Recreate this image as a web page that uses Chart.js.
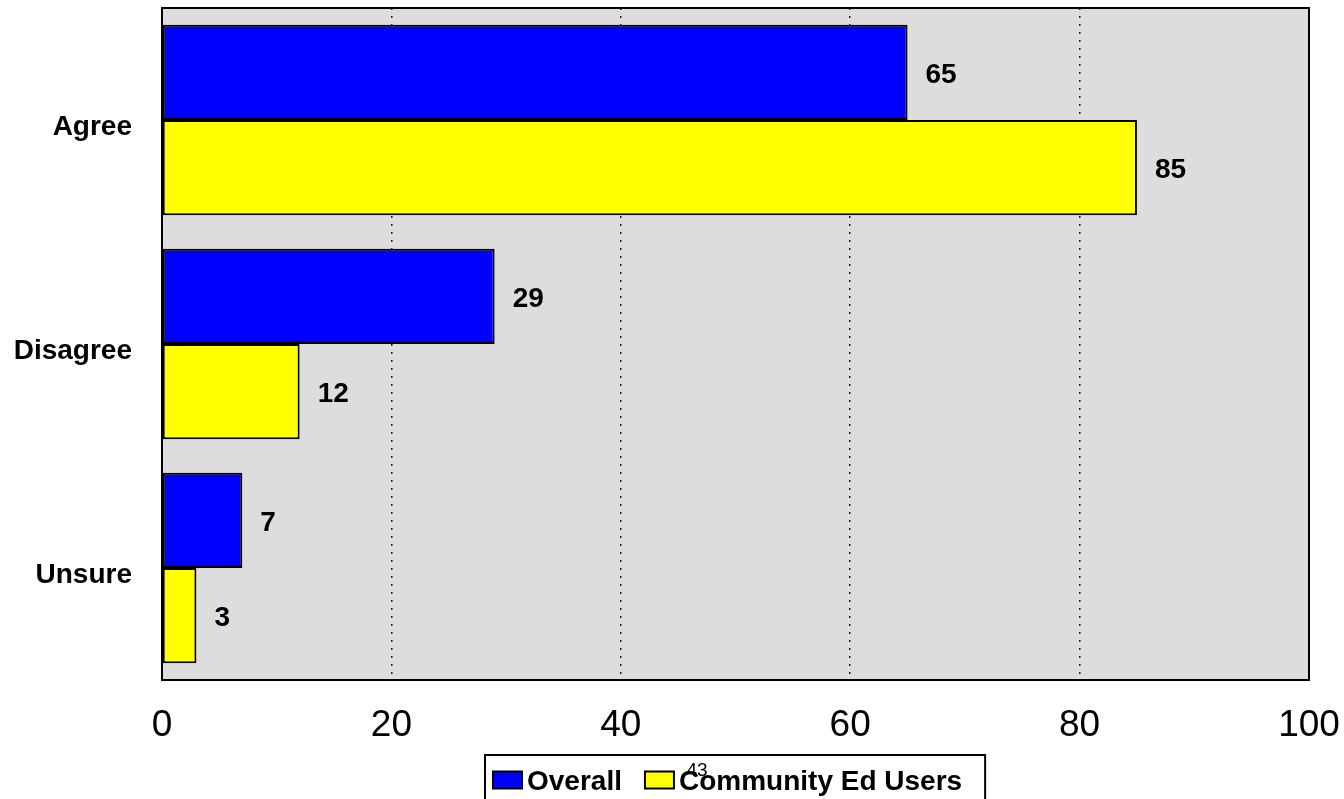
<!DOCTYPE html>
<html>
<head>
<meta charset="utf-8">
<script src="https://cdn.jsdelivr.net/npm/chart.js@4.4.1/dist/chart.umd.min.js"></script>
<style>
    html, body { margin: 0; padding: 0; background: #fff; }
    #wrap { width: 1344px; height: 799px; position: relative; }
</style>
</head>
<body>
<div id="wrap"><canvas id="chart"></canvas></div>
<script>
const categories = ["Agree", "Disagree", "Unsure"];
const seriesNames = ["Overall", "Community Ed Users"];
const overallValues = [65, 29, 7];
const communityValues = [85, 12, 3];
const xTicks = [0, 20, 40, 60, 80, 100];
const strayLabel = "43";

const FONT = "'Liberation Sans', Arial, sans-serif";

// Grey plot background
const plotBackground = {
    id: "plotBackground",
    beforeDraw(chart) {
        const { ctx, chartArea: a } = chart;
        ctx.save();
        ctx.fillStyle = "#dddddd";
        ctx.fillRect(a.left, a.top, a.right - a.left, a.bottom - a.top);
        ctx.restore();
    },
};

// Black frame round the plot area
const plotFrame = {
    id: "plotFrame",
    afterDatasetsDraw(chart) {
        const { ctx, chartArea: a } = chart;
        ctx.save();
        ctx.strokeStyle = "#000";
        ctx.lineWidth = 2;
        ctx.strokeRect(a.left, a.top, a.right - a.left, a.bottom - a.top);
        ctx.restore();
    },
};

// Values at the end of each bar
const valueLabels = {
    id: "valueLabels",
    afterDatasetsDraw(chart) {
        const ctx = chart.ctx;
        ctx.save();
        ctx.font = "bold 28px " + FONT;
        ctx.fillStyle = "#000";
        ctx.textAlign = "left";
        ctx.textBaseline = "middle";
        chart.data.datasets.forEach((ds, i) => {
            chart.getDatasetMeta(i).data.forEach((bar, j) => {
                ctx.fillText(String(ds.data[j]), bar.x + 18, bar.y + 3);
            });
        });
        ctx.restore();
    },
};

// Boxed legend under the axis
const boxLegend = {
    id: "boxLegend",
    afterDraw(chart) {
        const ctx = chart.ctx;
        const a = chart.chartArea;
        const sw = 29, sh = 17, gap = 5, itemGap = 23, padL = 8, padR = 23;
        ctx.save();
        ctx.font = "bold 28px " + FONT;
        const items = chart.data.datasets.map((ds) => ({
            text: ds.label,
            color: ds.backgroundColor,
            w: ctx.measureText(ds.label).width,
        }));
        let contentW = 0;
        items.forEach((it, i) => {
            contentW += sw + gap + it.w + (i < items.length - 1 ? itemGap : 0);
        });
        const boxW = contentW + padL + padR;
        const boxX = Math.round((a.left + a.right) / 2 - boxW / 2);
        const boxY = 755;
        ctx.strokeStyle = "#000";
        ctx.lineWidth = 2;
        ctx.strokeRect(boxX, boxY, boxW, 60);

        let x = boxX + padL;
        const cy = 780;
        items.forEach((it) => {
            ctx.fillStyle = it.color;
            ctx.fillRect(x, cy - sh / 2, sw, sh);
            ctx.strokeRect(x, cy - sh / 2, sw, sh);
            x += sw + gap;
            ctx.fillStyle = "#000";
            ctx.textAlign = "left";
            ctx.textBaseline = "middle";
            ctx.fillText(it.text, x, cy + 2);
            x += it.w + itemGap;
        });

        // stray label that overlaps the legend in the original
        ctx.font = "19px " + FONT;
        ctx.textAlign = "center";
        ctx.fillText(strayLabel, 697, 771);
        ctx.restore();
    },
};

new Chart(document.getElementById("chart"), {
    type: "bar",
    data: {
        labels: categories,
        datasets: [
            {
                label: seriesNames[0],
                data: overallValues,
                backgroundColor: "#0000ff",
                borderColor: "#000",
                borderWidth: 2,
                borderSkipped: false,
                categoryPercentage: 0.85,
                barPercentage: 1.0,
            },
            {
                label: seriesNames[1],
                data: communityValues,
                backgroundColor: "#ffff00",
                borderColor: "#000",
                borderWidth: 2,
                borderSkipped: false,
                categoryPercentage: 0.85,
                barPercentage: 1.0,
            },
        ],
    },
    options: {
        indexAxis: "y",
        responsive: true,
        maintainAspectRatio: false,
        animation: false,
        layout: { padding: { top: 8, right: 35, left: 0, bottom: 0 } },
        plugins: {
            legend: { display: false },
            tooltip: { enabled: false },
        },
        scales: {
            x: {
                min: 0,
                max: 100,
                afterBuildTicks: (scale) => {
                    scale.ticks = xTicks.map((v) => ({ value: v }));
                },
                afterFit: (scale) => {
                    scale.height = 119;
                    scale.paddingLeft = 0;
                    scale.paddingRight = 0;
                },
                ticks: {
                    color: "#000",
                    font: { family: FONT, size: 37 },
                    padding: 24,
                    maxRotation: 0,
                },
                grid: {
                    drawTicks: false,
                    lineWidth: 1.5,
                    color: (c) => (c.tick && (c.tick.value === 0 || c.tick.value === 100) ? "rgba(0,0,0,0)" : "#222"),
                },
                border: { display: false, dash: [2, 6] },
            },
            y: {
                afterFit: (scale) => {
                    scale.width = 162;
                    scale.paddingTop = 0;
                    scale.paddingBottom = 0;
                },
                ticks: {
                    color: "#000",
                    font: { family: FONT, size: 28, weight: "bold" },
                    padding: 30,
                    labelOffset: 7,
                },
                grid: { display: false, drawTicks: false },
                border: { display: false },
            },
        },
    },
    plugins: [plotBackground, plotFrame, valueLabels, boxLegend],
});
</script>
</body>
</html>
